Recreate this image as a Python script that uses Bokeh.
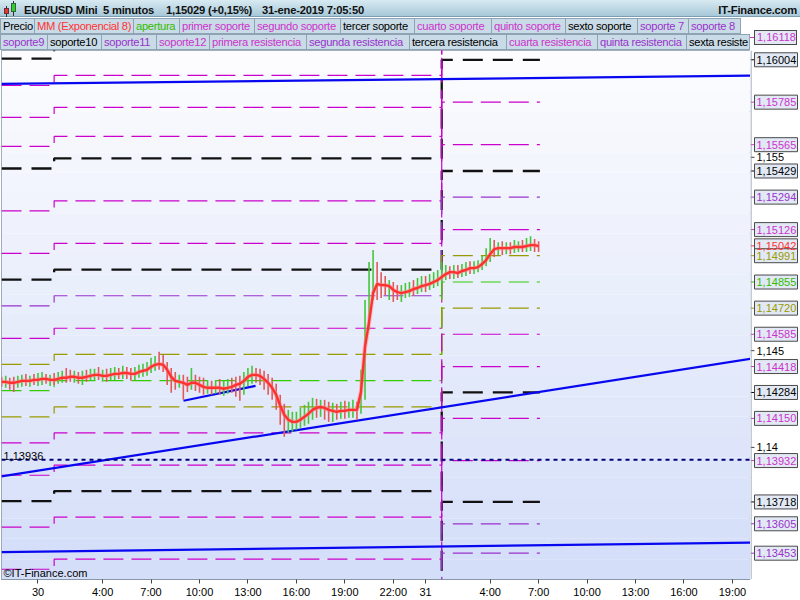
import numpy as np
from bokeh.plotting import figure
from bokeh.models import Range1d, FixedTicker, Label, BoxAnnotation, Div, Span, ColumnDataSource
from bokeh.layouts import column, row
from bokeh.core.properties import value
from bokeh.embed import file_html
from bokeh.resources import INLINE

# ---------------- data (time in hours from 30-ene-2019 00:00) ----------------
bar_start_h = -2.25
bar_step_h = 0.25

ema8 = [1.14339,1.14339,1.14334,1.14334,1.14339,1.14344,1.14344,1.14344,1.14349,1.14349,
        1.14354,1.14354,1.14349,1.14349,1.14354,1.14360,1.14360,1.14365,1.14365,1.14360,
        1.14360,1.14365,1.14370,1.14375,1.14375,1.14370,1.14370,1.14375,1.14380,1.14380,
        1.14385,1.14385,1.14380,1.14380,1.14390,1.14396,1.14401,1.14416,1.14427,1.14432,
        1.14427,1.14401,1.14365,1.14344,1.14339,1.14334,1.14323,1.14334,1.14334,1.14323,
        1.14313,1.14308,1.14308,1.14308,1.14308,1.14303,1.14308,1.14313,1.14323,1.14329,
        1.14344,1.14365,1.14375,1.14375,1.14370,1.14354,1.14334,1.14308,1.14272,1.14215,
        1.14169,1.14143,1.14132,1.14132,1.14143,1.14158,1.14174,1.14194,1.14204,1.14209,
        1.14204,1.14194,1.14189,1.14184,1.14189,1.14189,1.14194,1.14194,1.14194,1.14287,
        1.14520,1.14648,1.14798,1.14845,1.14839,1.14839,1.14834,1.14814,1.14803,1.14798,
        1.14803,1.14808,1.14819,1.14824,1.14834,1.14839,1.14845,1.14855,1.14865,1.14881,
        1.14896,1.14906,1.14906,1.14901,1.14912,1.14917,1.14927,1.14927,1.14932,1.14948,
        1.14968,1.14999,1.15025,1.15030,1.15030,1.15030,1.15030,1.15036,1.15036,1.15036,
        1.15041,1.15046,1.15046,1.15041]

bar_high = [1.14365,1.14370,1.14360,1.14365,1.14370,1.14375,1.14380,1.14370,1.14380,1.14385,
            1.14390,1.14380,1.14375,1.14385,1.14390,1.14396,1.14411,1.14401,1.14396,1.14390,
            1.14396,1.14401,1.14406,1.14406,1.14416,1.14401,1.14406,1.14411,1.14416,1.14411,
            1.14422,1.14416,1.14411,1.14416,1.14427,1.14432,1.14442,1.14463,1.14473,1.14494,
            1.14478,1.14442,1.14411,1.14390,1.14375,1.14375,1.14365,1.14411,1.14375,1.14365,
            1.14360,1.14349,1.14344,1.14349,1.14354,1.14344,1.14354,1.14360,1.14365,1.14370,
            1.14390,1.14411,1.14422,1.14411,1.14406,1.14396,1.14380,1.14360,1.14329,1.14272,
            1.14225,1.14194,1.14184,1.14184,1.14205,1.14220,1.14236,1.14256,1.14251,1.14246,
            1.14246,1.14236,1.14231,1.14225,1.14236,1.14241,1.14236,1.14246,1.14236,1.14401,
            1.14762,1.14958,1.15020,1.14958,1.14906,1.14886,1.14865,1.14855,1.14839,1.14839,
            1.14850,1.14855,1.14865,1.14876,1.14886,1.14886,1.14896,1.14906,1.14917,1.14958,
            1.14943,1.14937,1.14943,1.14943,1.14948,1.14958,1.14963,1.14963,1.14968,1.14989,
            1.15030,1.15082,1.15072,1.15061,1.15066,1.15061,1.15061,1.15072,1.15066,1.15072,
            1.15082,1.15092,1.15077,1.15066]

bar_low = [1.14313,1.14308,1.14298,1.14287,1.14308,1.14313,1.14318,1.14313,1.14323,1.14318,
           1.14323,1.14329,1.14318,1.14323,1.14329,1.14334,1.14334,1.14339,1.14334,1.14329,
           1.14323,1.14339,1.14344,1.14344,1.14349,1.14339,1.14339,1.14349,1.14349,1.14354,
           1.14354,1.14354,1.14344,1.14349,1.14360,1.14365,1.14370,1.14385,1.14396,1.14401,
           1.14390,1.14323,1.14282,1.14298,1.14308,1.14246,1.14287,1.14298,1.14292,1.14282,
           1.14272,1.14277,1.14272,1.14277,1.14272,1.14267,1.14277,1.14282,1.14262,1.14241,
           1.14272,1.14318,1.14329,1.14334,1.14323,1.14298,1.14272,1.14246,1.14194,1.14117,
           1.14055,1.14076,1.14081,1.14091,1.14101,1.14112,1.14122,1.14143,1.14153,1.14158,
           1.14143,1.14132,1.14132,1.14143,1.14148,1.14148,1.14153,1.14153,1.14143,1.14174,
           1.14246,1.14607,1.14762,1.14762,1.14772,1.14788,1.14762,1.14752,1.14762,1.14752,
           1.14772,1.14778,1.14783,1.14793,1.14803,1.14803,1.14814,1.14824,1.14834,1.14850,
           1.14865,1.14870,1.14870,1.14876,1.14881,1.14886,1.14896,1.14896,1.14906,1.14917,
           1.14937,1.14958,1.14984,1.14994,1.14994,1.14999,1.14999,1.15005,1.15010,1.15010,
           1.15010,1.15015,1.15010,1.15010]

bar_dir = ("RGRRGGRGRG" "GRGRGGRRGR" "GRGGRGRGGR" "GRRGGGGGGR" "RRRRGRRGRR"
           "RGRGRGGRRR" "GGGRRRRRRR" "RGGGGGGGRG" "RRGRGRGGRG" "GGGRRRGRRG"
           "GGRGGRGGGG" "GRGRGGRGGG" "GGRGRGRGGR" "GGRR")

# pivot levels: three sessions (29-ene tail, 30-ene, 31-ene)
session_bounds_h = [-2.26, 1.0, 25.0, 31.08]
level_kind = ["blk", "mag", "mag", "mag", "blk", "mag", "mag", "blk", "pur", "mag", "olv",
              "grn", "olv", "mag", "mag", "blk", "mag", "mag", "blk", "pur", "pur"]
level_s1 = [1.16010, 1.15871, 1.15706, 1.15556, 1.15442, 1.15223, 1.15003, 1.14867, 1.14732, 1.14564, 1.14429,
            1.14293, 1.14158, 1.14023, 1.13856, 1.13722, 1.13588, 1.13370, 1.13156, 1.13043, 1.12891]
level_s2 = [1.16062, 1.15923, 1.15758, 1.15608, 1.15494, 1.15275, 1.15055, 1.14919, 1.14784, 1.14616, 1.14481,
            1.14345, 1.14210, 1.14075, 1.13908, 1.13774, 1.13640, 1.13422, 1.13208, 1.13095, 1.12943]
level_s3 = [1.16572, 1.16433, 1.16263, 1.16118, 1.16004, 1.15785, 1.15565, 1.15429, 1.15294, 1.15126, 1.14991,
            1.14855, 1.14720, 1.14585, 1.14418, 1.14284, 1.14150, 1.13932, 1.13718, 1.13605, 1.13453]

trend_t = [[-2.26, 44.12], [-2.26, 44.12], [-2.26, 44.12], [9.01, 13.47]]
trend_p = [[1.15879, 1.15922], [1.13459, 1.13508], [1.13850, 1.14458], [1.14241, 1.14318]]

ref_level = 1.13936

axis_box_vals = [1.15042, 1.16004, 1.15785, 1.15565, 1.15429, 1.15294, 1.15126, 1.14991, 1.14855,
                 1.14720, 1.14585, 1.14418, 1.14284, 1.14150, 1.13932, 1.13718, 1.13605, 1.13453]
axis_box_kind = ["red", "blk", "mag", "mag", "blk", "pur", "mag", "olv", "grn",
                 "olv", "mag", "mag", "blk", "mag", "mag", "blk", "pur", "pur"]
top_box_val = 1.16118

round_ticks = [1.14, 1.145, 1.155]
round_tick_text = ["1,14", "1,145", "1,155"]

time_ticks = [0, 4, 7, 10, 13, 16, 19, 22, 24, 28, 31, 34, 37, 40, 43]
time_tick_text = ["30", "4:00", "7:00", "10:00", "13:00", "16:00", "19:00", "22:00",
                  "31", "4:00", "7:00", "10:00", "13:00", "16:00", "19:00"]

legend_row1 = [("Precio", "blk"), ("MM (Exponencial 8)", "red"), ("apertura", "grn"),
               ("primer soporte", "mag"), ("segundo soporte", "mag"), ("tercer soporte", "blk"),
               ("cuarto soporte", "mag"), ("quinto soporte", "mag"), ("sexto soporte", "blk"),
               ("soporte 7", "pur"), ("soporte 8", "pur")]
# last entry is shown cut at the plot edge, as in the original
legend_row2 = [("soporte9", "pur"), ("soporte10", "blk"), ("soporte11", "pur"), ("soporte12", "mag"),
               ("primera resistencia", "mag"), ("segunda resistencia", "pur"),
               ("tercera resistencia", "blk"), ("cuarta resistencia", "mag"),
               ("quinta resistencia", "pur"), ("sexta resiste", "blk")]

# ---------------- styling ----------------
LINE_COL = {"blk": "#000000", "mag": "#cc00cc", "pur": "#9933cc", "olv": "#999900",
            "grn": "#33cc00", "red": "#ff3333"}
TEXT_COL = {"blk": "#000000", "mag": "#cc33cc", "pur": "#9933cc", "olv": "#999900",
            "grn": "#33bb00", "red": "#ff3333"}
FONT = "Liberation Sans"
LEG_W1 = [35, 99, 46, 75, 86, 74, 77, 74, 72, 51, 52]
LEG_W2 = [48, 54, 55, 53, 97, 103, 97, 91, 89, 63]

X0, X1 = -2.26, 44.12
Y0, Y1 = 1.13317, 1.16052

p = figure(width=750, height=550, output_backend="svg", toolbar_location=None,
           x_range=Range1d(X0, X1), y_range=Range1d(Y0, Y1), y_axis_location=None,
           min_border_left=1, min_border_right=0, min_border_top=0, min_border_bottom=20,
           border_fill_color="white", outline_line_color="#8796a8", margin=(0, 0, 0, 0))
p.xgrid.visible = False
p.ygrid.visible = False

# gradient background (bands)
nb = 26
edges = np.linspace(Y0, Y1, nb + 1)
c_bot = np.array([0xd4, 0xde, 0xf9])
c_top = np.array([0xfd, 0xfd, 0xff])
for k in range(nb):
    f = (k + 0.5) / nb
    c = (c_bot + (c_top - c_bot) * f).astype(int)
    p.add_layout(BoxAnnotation(bottom=edges[k], top=edges[k + 1],
                               fill_color="#%02x%02x%02x" % tuple(c), fill_alpha=1.0,
                               line_color=None, level="underlay"))

# pivot level step lines (black first, coloured on top)
order = [k for k, kd in enumerate(level_kind) if kd == "blk"] + \
        [k for k, kd in enumerate(level_kind) if kd != "blk"]
b = session_bounds_h
for k in order:
    kd = level_kind[k]
    xs = [b[0], b[1], b[1], b[2], b[2], b[3]]
    ys = [level_s1[k], level_s1[k], level_s2[k], level_s2[k], level_s3[k], level_s3[k]]
    if kd == "blk":
        p.line(xs, ys, line_color="#111111", line_width=2.3, line_dash="20 10")
    else:
        p.line(xs, ys, line_color=LINE_COL[kd], line_width=1.2, line_dash="20 8")

# trend lines
for tt, pp in zip(trend_t, trend_p):
    p.line(tt, pp, line_color="#0808f0", line_width=2.2)

p.add_layout(Span(location=ref_level, dimension="width", line_color="#00007f",
                  line_width=2, line_dash="4 4"))
p.add_layout(Label(x=X0, y=ref_level, x_offset=2, text="1,13936", text_baseline="bottom",
                   text_font=FONT, text_font_size="11px", text_color="#000000"))

# price sticks + EMA
t = bar_start_h + bar_step_h * np.arange(len(ema8))
src = ColumnDataSource(dict(t=t, hi=bar_high, lo=bar_low,
                            c=["#44c63a" if d == "G" else "#e05a5a" for d in bar_dir]))
p.segment(x0="t", y0="lo", x1="t", y1="hi", line_color="c", line_width=1.6, source=src)
p.line(t, ema8, line_color="#ff8080", line_width=4.5, line_alpha=0.45)
p.line(t, ema8, line_color="#ff3030", line_width=2.4)

p.add_layout(Label(x=X0, y=Y0, x_offset=2, y_offset=1, text="\u00a9IT-Finance.com",
                   text_baseline="bottom", text_font=FONT, text_font_size="11px",
                   text_color="#000000"))

# time axis
p.xaxis.ticker = FixedTicker(ticks=time_ticks)
p.xaxis.major_label_overrides = {v: s for v, s in zip(time_ticks, time_tick_text)}
ax = p.xaxis[0]
ax.axis_line_color = "#8796a8"
ax.major_tick_line_color = "#444444"
ax.major_tick_out = 4
ax.major_tick_in = 0
ax.minor_tick_line_color = None
ax.major_label_text_font = FONT
ax.major_label_text_font_size = "11px"
ax.major_label_text_color = "#000000"
ax.major_label_standoff = 2

# ---------------- price scale panel (shares the price range) ----------------
pa = figure(width=50, height=550, output_backend="svg", toolbar_location=None,
            x_range=Range1d(0, 50), y_range=p.y_range, x_axis_location=None, y_axis_location=None,
            min_border_left=0, min_border_right=0, min_border_top=0, min_border_bottom=20,
            background_fill_color="white", border_fill_color="white", outline_line_color=None,
            margin=(0, 0, 0, 0))
pa.xgrid.visible = False
pa.ygrid.visible = False
pa.add_layout(Span(location=0.5, dimension="height", line_color="#8796a8", line_width=1))

pa.segment(x0=0, x1=4, y0=round_ticks, y1=round_ticks, line_color="#444444", line_width=1)
pa.text(x=6, y=round_ticks, text=round_tick_text, text_align="left", text_baseline="middle",
        text_font=value(FONT), text_font_size="11px", text_color="#000000")

box_src = ColumnDataSource(dict(
    y=axis_box_vals,
    txt=[f"{v:.5f}".replace(".", ",") for v in axis_box_vals],
    col=[TEXT_COL[k] for k in axis_box_kind]))
pa.segment(x0=0, x1=4, y0="y", y1="y", line_color="col", line_width=1, source=box_src)
pa.rect(x=25.5, y="y", width=43, height=14, height_units="screen", fill_color="#e2e9f5",
        line_color="#4a4a4a", line_width=1, source=box_src)
pa.text(x=6, y="y", text="txt", text_align="left", text_baseline="middle",
        text_font=value(FONT), text_font_size="11px", text_color="col", source=box_src)

# ---------------- header (title bar + legend rows) ----------------
def legend_row(items, widths, top, width):
    spans = []
    for n, ((name, kd), w) in enumerate(zip(items, widths)):
        bl = "border-left:1px solid #8ea3b4;" if n == 0 else ""
        spans.append(
            f'<span style="display:inline-block;box-sizing:border-box;width:{w}px;height:16px;'
            f'line-height:14px;padding:0 0 0 2px;border:1px solid #8ea3b4;border-left:none;{bl}'
            f'background:#c9dbe6;color:{TEXT_COL[kd]};white-space:nowrap;overflow:hidden;flex:none;'
            f'letter-spacing:-0.3px;">{name}</span>')
    return (f'<div style="position:absolute;left:0;top:{top}px;width:{width}px;height:16px;'
            f'overflow:hidden;display:flex;font-family:\'{FONT}\';font-size:11.2px;">'
            + "".join(spans) + '</div>')

title_font = (f"font-family:'{FONT}';font-weight:bold;font-size:11.2px;color:#101010;"
              "letter-spacing:-0.2px;white-space:nowrap;")
top_txt = f"{top_box_val:.5f}".replace(".", ",")
header = f"""
<div style="position:relative;width:800px;height:50px;background:#ffffff;overflow:hidden;">
 <div style="position:absolute;left:0;top:0;width:800px;height:17px;background:linear-gradient(#d8eaf2,#a7c8d8);border-bottom:1px solid #7f9db0;"></div>
 <div style="position:absolute;left:6px;top:6px;width:1px;height:11px;background:#333"></div>
 <div style="position:absolute;left:4px;top:8px;width:5px;height:6px;background:#e33;border:1px solid #633"></div>
 <div style="position:absolute;left:13px;top:1px;width:1px;height:15px;background:#333"></div>
 <div style="position:absolute;left:11px;top:3px;width:5px;height:9px;background:#3c3;border:1px solid #363"></div>
 <span style="position:absolute;left:24px;top:2px;{title_font}">EUR/USD Mini</span>
 <span style="position:absolute;left:103px;top:2px;{title_font}">5 minutos</span>
 <span style="position:absolute;left:166px;top:2px;{title_font}">1,15029 (+0,15%)</span>
 <span style="position:absolute;left:262px;top:2px;{title_font}">31-ene-2019 7:05:50</span>
 <span style="position:absolute;right:3px;top:2px;{title_font}">IT-Finance.com</span>
 {legend_row(legend_row1, LEG_W1, 18, 745)}
 {legend_row(legend_row2, LEG_W2, 34, 750)}
 <div style="position:absolute;left:750px;top:37px;width:5px;height:1px;background:#cc33cc"></div>
 <span style="position:absolute;left:754px;top:30px;box-sizing:border-box;width:43px;height:15px;line-height:13px;padding:0 0 0 2px;border:1px solid #4a4a4a;background:#e2e9f5;color:#cc33cc;font-family:'{FONT}';font-size:11px;">{top_txt}</span>
</div>
"""
div = Div(text=header, width=800, height=50, margin=(0, 0, 0, 0))

layout = column(div, row(p, pa, spacing=0, margin=(0, 0, 0, 0)), spacing=0, margin=(0, 0, 0, 0))
open("out.html", "w").write(file_html(layout, INLINE))
